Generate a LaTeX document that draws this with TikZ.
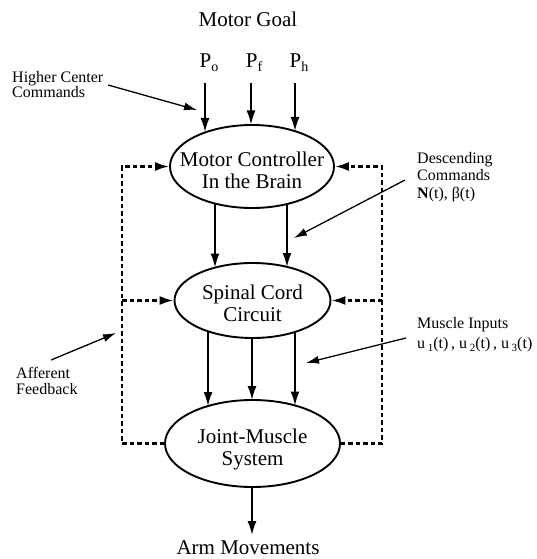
\documentclass[tikz,border=0pt]{standalone}
\usepackage{fontspec}
\setmainfont{Liberation Serif}
\usetikzlibrary{shapes.geometric,arrows.meta}
\newcommand{\sbs}[1]{\raisebox{-4pt}{\fontsize{14}{14}\selectfont #1}}
\newcommand{\sbm}[1]{\raisebox{-3pt}{\fontsize{11}{11}\selectfont #1}}
\begin{document}
\begin{tikzpicture}[x=1pt,y=-1pt,
  big/.style={font=\fontsize{21}{22}\selectfont, inner sep=0, anchor=base},
  small/.style={font=\fontsize{16}{17}\selectfont, inner sep=0, anchor=base west},
  oval/.style={draw, ellipse, line width=1.9pt, inner sep=0},
  arr/.style={line width=1.6pt, -{Latex[length=14pt,width=9pt]}},
  tarr/.style={line width=1.3pt, -{Latex[length=13pt,width=8pt]}},
  fb/.style={line width=2.2pt, dash pattern=on 4.5pt off 3pt},
  fbarr/.style={fb, -{Latex[length=14pt,width=9pt]}},
]
\useasboundingbox (0,0) rectangle (537,559);

% ellipses
\node[oval, minimum width=164pt, minimum height=83pt] (e1) at (252,166.5) {};
\node[oval, minimum width=156pt, minimum height=75pt] (e2) at (252.5,300.5) {};
\node[oval, minimum width=175pt, minimum height=87pt] (e3) at (252.5,443.5) {};

\node[big] (t1a) at (252,166) {Motor Controller};
\node[big] (t1b) at (252,188) {In the Brain};
\node[big] (t2a) at (252.5,299) {Spinal Cord};
\node[big] (t2b) at (252.5,321) {Circuit};
\node[big] (t3a) at (252.5,443) {Joint-Muscle};
\node[big] (t3b) at (252.5,465) {System};

% top labels
\node[big] (goal) at (248,27) {Motor Goal};
\node[big] (po) at (209,68) {P\sbs{o}};
\node[big] (pf) at (254,68) {P\sbs{f}};
\node[big] (ph) at (299,68) {P\sbs{h}};
\node[big] (arm) at (248,554) {Arm Movements};

% P arrows
\coordinate (poa) at (205,83);
\coordinate (pfa) at (251,83);
\coordinate (pha) at (295,83);
\coordinate (pob) at (205,132);
\coordinate (pfb) at (251,124.5);
\coordinate (phb) at (295,131);
\draw[arr] (poa) -- (pob);
\draw[arr] (pfa) -- (pfb);
\draw[arr] (pha) -- (phb);

% e1 -> e2
\coordinate (a1s) at (215,203.5);
\coordinate (a1e) at (215,267.5);
\coordinate (a2s) at (287,204);
\coordinate (a2e) at (287,267);
\draw[arr] (a1s) -- (a1e);
\draw[arr] (a2s) -- (a2e);

% e2 -> e3
\coordinate (b1s) at (208,331.5);
\coordinate (b1e) at (208,406);
\coordinate (b2s) at (252,338);
\coordinate (b2e) at (252,400);
\coordinate (b3s) at (295,332);
\coordinate (b3e) at (295,405.5);
\draw[arr] (b1s) -- (b1e);
\draw[arr] (b2s) -- (b2e);
\draw[arr] (b3s) -- (b3e);

% e3 -> arm
\coordinate (arms) at (252,487);
\coordinate (armt) at (252,535);
\draw[arr] (arms) -- (armt);

% feedback loops
\coordinate (lb) at (122,443.5);
\coordinate (lm) at (122,300.5);
\coordinate (lt) at (122,166.5);
\coordinate (rb) at (382,443.5);
\coordinate (rm) at (382,300.5);
\coordinate (rt) at (382,166.5);
\draw[fbarr] (e3.west) -- (lb) -- (lt) -- (e1.west);
\draw[fbarr] (lm) -- (e2.west);
\draw[fbarr] (e3.east) -- (rb) -- (rt) -- (e1.east);
\draw[fbarr] (rm) -- (e2.east);

% side labels
\node[small] (hc1) at (12,83) {Higher Center};
\node[small] (hc2) at (12,98) {Commands};
\coordinate (hcs) at (108,85);
\coordinate (hce) at (197,110);
\draw[tarr] (hcs) -- (hce);

\node[small] (dc1) at (417,163) {Descending};
\node[small] (dc2) at (417,180) {Commands};
\node[small] (dc3) at (417,198) {\textbf{N}(t), β(t)};
\coordinate (dcs) at (405,180);
\coordinate (dce) at (294,238);
\draw[tarr] (dcs) -- (dce);

\node[small] (mi1) at (417,328) {Muscle Inputs};
\node[small] (mi2) at (417,348) {u\,\sbm{1}(t)\,, u\,\sbm{2}(t)\,, u\,\sbm{3}(t)};
\coordinate (mis) at (406,338);
\coordinate (mie) at (306,363);
\draw[tarr] (mis) -- (mie);

\node[small] (af1) at (16,378) {Afferent};
\node[small] (af2) at (16,394) {Feedback};
\coordinate (afs) at (51,360);
\coordinate (afe) at (116,333);
\draw[tarr] (afs) -- (afe);
\end{tikzpicture}
\end{document}
